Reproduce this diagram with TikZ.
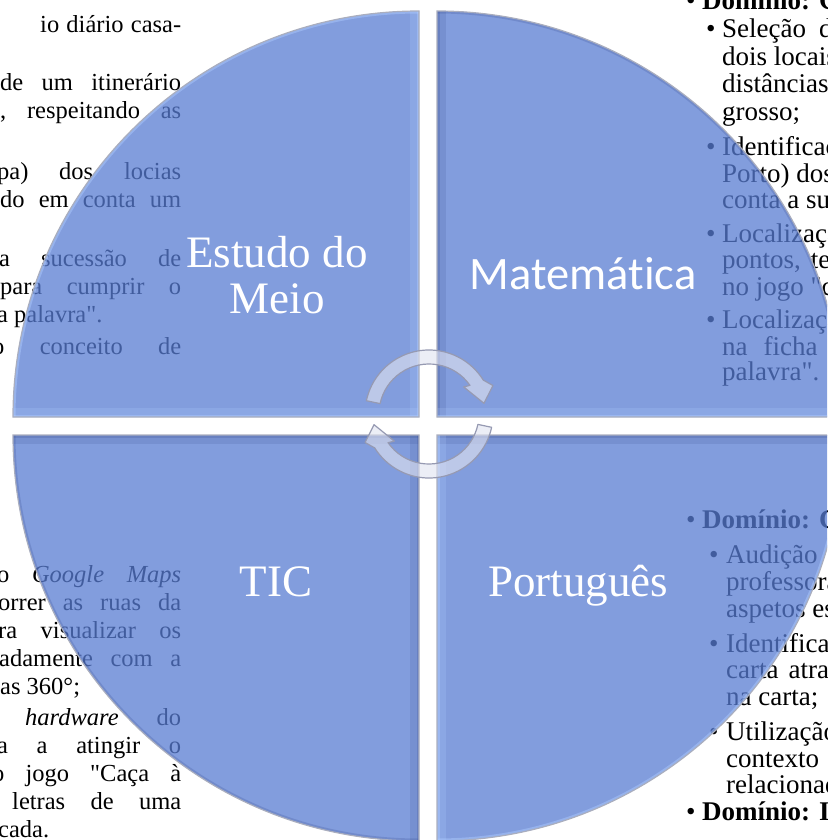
\documentclass[tikz,border=0pt]{standalone}
\usepackage{fontspec}
\setmainfont{Liberation Serif}[Ligatures=TeXOff]
\newfontfamily\calfont{Carlito}[Ligatures=NoCommon]
\usetikzlibrary{calc}
\definecolor{quadfill}{RGB}{88,124,210}
\definecolor{hilite}{RGB}{175,205,255}
\definecolor{shadeblue}{RGB}{55,75,140}
\definecolor{edgegray}{RGB}{170,174,190}
\definecolor{arrowfill}{RGB}{225,227,240}
\definecolor{arrowedge}{RGB}{150,154,178}
\begin{document}
\begin{tikzpicture}[x=1pt,y=-1pt,
  body/.style={font=\fontsize{24.5}{27.6}\selectfont, inner sep=0pt, anchor=base west},
  rbody/.style={font=\fontsize{27}{27}\selectfont, inner sep=0pt, anchor=base west},
  lab/.style={text=white, inner sep=0pt, font=\fontsize{45}{46}\selectfont},
  quad/.style={fill=quadfill, fill opacity=0.75},
  qedge/.style={draw=edgegray, line width=1.2pt},
  lightband/.style={draw=hilite, line width=18pt, opacity=0.22},
  lightline/.style={draw=hilite, line width=5pt, opacity=0.45},
  darkband/.style={draw=shadeblue, line width=18pt, opacity=0.16},
  darkline/.style={draw=shadeblue, line width=5pt, opacity=0.22},
  arrowshape/.style={fill=arrowfill, fill opacity=0.62, draw=arrowedge, line width=1.2pt, line join=round}
]
\useasboundingbox (0,0) rectangle (827,840);
\clip (0,0) rectangle (827,840);

% ---------- background text, left column (top) ----------
\node[body] (l1) at (40,33) {\makebox[141pt]{io\hfill diário\hfill casa-}};
\node[body] (l2) at (0,91) {\makebox[181pt]{de\hfill um\hfill itinerário}};
\node[body] (l3) at (0,119) {\makebox[181pt]{,\hfill respeitando\hfill as}};
\node[body] (l4) at (-3,179) {\makebox[184pt]{pa)\hfill dos\hfill locias}};
\node[body] (l5) at (0,207) {\makebox[181pt]{do\hfill em\hfill conta\hfill um}};
\node[body] (l6) at (-1,266) {\makebox[182pt]{a\hfill sucessão\hfill de}};
\node[body] (l7) at (0,294) {\makebox[181pt]{para\hfill cumprir\hfill o}};
\node[body] (l8) at (-3,322) {a palavra".};
\node[body] (l9) at (-8,354) {\makebox[189pt]{o\hfill conceito\hfill de}};

% ---------- background text, left column (bottom) ----------
\node[body] (b1) at (-3,582) {\makebox[184pt]{o\hfill \textit{Google}\hfill \textit{Maps}}};
\node[body] (b2) at (-2,610) {\makebox[183pt]{orrer\hfill as\hfill ruas\hfill da}};
\node[body] (b3) at (-2,638) {\makebox[183pt]{ra\hfill visualizar\hfill os}};
\node[body] (b4) at (-1,666) {\makebox[182pt]{adamente\hfill com\hfill a}};
\node[body] (b5) at (0,694) {as 360°;};
\node[body] (b6) at (25,725) {\makebox[156pt]{\textit{hardware}\hfill do}};
\node[body] (b7) at (-3,753) {\makebox[184pt]{a\hfill a\hfill atingir\hfill o}};
\node[body] (b8) at (-8,781) {\makebox[189pt]{o\hfill jogo\hfill "Caça\hfill à}};
\node[body] (b9) at (12,809) {\makebox[169pt]{letras\hfill de\hfill uma}};
\node[body] (b10) at (-2,837) {cada.};

% ---------- background text, right column (top) ----------
\node[rbody] (rb0) at (686,10) {•};
\node[rbody] (r0) at (702,10) {\textbf{Domínio: Geometria}};
\node[rbody] (rb1) at (706,38) {•};
\node[rbody] (r1) at (722,38) {Seleção\hspace{13pt}de};
\node[rbody] (r2) at (722,65.5) {dois locais};
\node[rbody] (r3) at (722,93) {distâncias};
\node[rbody] (r4) at (722,120.5) {grosso;};
\node[rbody] (rb5) at (706,155) {•};
\node[rbody] (r5) at (722,155) {Identificação};
\node[rbody] (r6) at (722,182) {Porto) dos};
\node[rbody] (r7) at (722,208) {conta a sua};
\node[rbody] (rb8) at (706,242) {•};
\node[rbody] (r8) at (722,242) {Localização};
\node[rbody] (r9) at (722,268) {pontos,\hspace{10pt}tendo};
\node[rbody] (r10) at (722,295) {no jogo "caça};
\node[rbody] (rb11) at (706,328) {•};
\node[rbody] (r11) at (722,328) {Localização};
\node[rbody] (r12) at (722,355) {na\hspace{16pt}ficha};
\node[rbody] (r13) at (722,380) {palavra".};

% ---------- background text, right column (bottom) ----------
\node[rbody] (sb0) at (686,528) {•};
\node[rbody] (s0) at (702,528) {\textbf{Domínio: Compreensão}};
\node[rbody] (sb1) at (709,563) {•};
\node[rbody] (s1) at (726,563) {Audição\hspace{25pt}da};
\node[rbody] (s2) at (726,590) {professora};
\node[rbody] (s3) at (726,617) {aspetos essenciais};
\node[rbody] (sb4) at (709,652) {•};
\node[rbody] (s4) at (726,652) {Identificação};
\node[rbody] (s5) at (726,678) {carta\hspace{10pt}através};
\node[rbody] (s6) at (726,705) {na carta;};
\node[rbody] (sb7) at (709,740) {•};
\node[rbody] (s7) at (726,740) {Utilização};
\node[rbody] (s8) at (726,767) {contexto\hspace{20pt}de};
\node[rbody] (s9) at (726,793) {relacionado};
\node[rbody] (sb10) at (686,820) {•};
\node[rbody] (s10) at (702,820) {\textbf{Domínio: Iniciação}};

% ---------- quadrant centres ----------
\coordinate (cTL) at (419,417);
\coordinate (cTR) at (437,417);
\coordinate (cBL) at (419,435);
\coordinate (cBR) at (437,435);

% ---------- quadrants ----------
\path[quad] (cTL) -- ++(180:406) arc[start angle=180, end angle=270, radius=406] -- cycle;
\path[quad] (cTR) -- ++(270:406) arc[start angle=270, end angle=360, radius=406] -- cycle;
\path[quad] (cBR) -- ++(0:406) arc[start angle=0, end angle=90, radius=406] -- cycle;
\path[quad] (cBL) -- ++(90:406) arc[start angle=90, end angle=180, radius=406] -- cycle;

% bevel: top-left
\begin{scope}
  \clip (cTL) -- ++(180:406) arc[start angle=180, end angle=270, radius=406] -- cycle;
  \path[lightband] (cTL) -- ++(270:406);
  \path[lightline] (cTL) -- ++(270:406);
  \path[lightband] (cTL) -- ++(180:406);
  \path[lightline] (cTL) -- ++(180:406);
  \path[lightline] ($(cTL)+(180:406)$) arc[start angle=180, end angle=270, radius=406];
\end{scope}
% bevel: top-right
\begin{scope}
  \clip (cTR) -- ++(270:406) arc[start angle=270, end angle=360, radius=406] -- cycle;
  \path[darkband] (cTR) -- ++(270:406);
  \path[darkline] (cTR) -- ++(270:406);
  \path[lightband] (cTR) -- ++(0:406);
  \path[lightline] (cTR) -- ++(0:406);
  \path[darkline] ($(cTR)+(270:406)$) arc[start angle=270, end angle=360, radius=406];
\end{scope}
% bevel: bottom-right
\begin{scope}
  \clip (cBR) -- ++(0:406) arc[start angle=0, end angle=90, radius=406] -- cycle;
  \path[darkband] (cBR) -- ++(0:406);
  \path[darkline] (cBR) -- ++(0:406);
  \path[lightband] (cBR) -- ++(90:406);
  \path[lightline] (cBR) -- ++(90:406);
  \path[lightline] ($(cBR)+(0:406)$) arc[start angle=0, end angle=90, radius=406];
\end{scope}
% bevel: bottom-left
\begin{scope}
  \clip (cBL) -- ++(90:406) arc[start angle=90, end angle=180, radius=406] -- cycle;
  \path[darkband] (cBL) -- ++(90:406);
  \path[darkline] (cBL) -- ++(90:406);
  \path[darkband] (cBL) -- ++(180:406);
  \path[darkline] (cBL) -- ++(180:406);
  \path[darkline] ($(cBL)+(90:406)$) arc[start angle=90, end angle=180, radius=406];
\end{scope}

% outlines
\path[qedge] (cTL) -- ++(180:406) arc[start angle=180, end angle=270, radius=406] -- cycle;
\path[qedge] (cTR) -- ++(270:406) arc[start angle=270, end angle=360, radius=406] -- cycle;
\path[qedge] (cBR) -- ++(0:406) arc[start angle=0, end angle=90, radius=406] -- cycle;
\path[qedge] (cBL) -- ++(90:406) arc[start angle=90, end angle=180, radius=406] -- cycle;

% ---------- circular arrows ----------
\coordinate (ac) at (429,414);
\path[arrowshape] ($(ac)+(192:64)$) arc[start angle=192, end angle=328, radius=64]
  -- ($(ac)+(336:70)$) -- ($(ac)+(349:56)$) -- ($(ac)+(322:44)$)
  -- ($(ac)+(325:50)$) arc[start angle=325, end angle=192, radius=50] -- cycle;
\begin{scope}[rotate around={180:(428,426)}]
\path[arrowshape] ($(ac)+(192:64)$) arc[start angle=192, end angle=328, radius=64]
  -- ($(ac)+(336:70)$) -- ($(ac)+(349:56)$) -- ($(ac)+(322:44)$)
  -- ($(ac)+(325:50)$) arc[start angle=325, end angle=192, radius=50] -- cycle;
\end{scope}

% ---------- labels ----------
\node[lab, align=center] (em) at (277,275) {Estudo do\\Meio};
\node[lab, font=\calfont\fontsize{46.5}{48}\selectfont, anchor=base] (ma) at (583,289) {Matemática};
\node[lab, anchor=base] (tic) at (276,596) {TIC};
\node[lab, anchor=base] (pt) at (578,596) {Português};
\end{tikzpicture}
\end{document}
